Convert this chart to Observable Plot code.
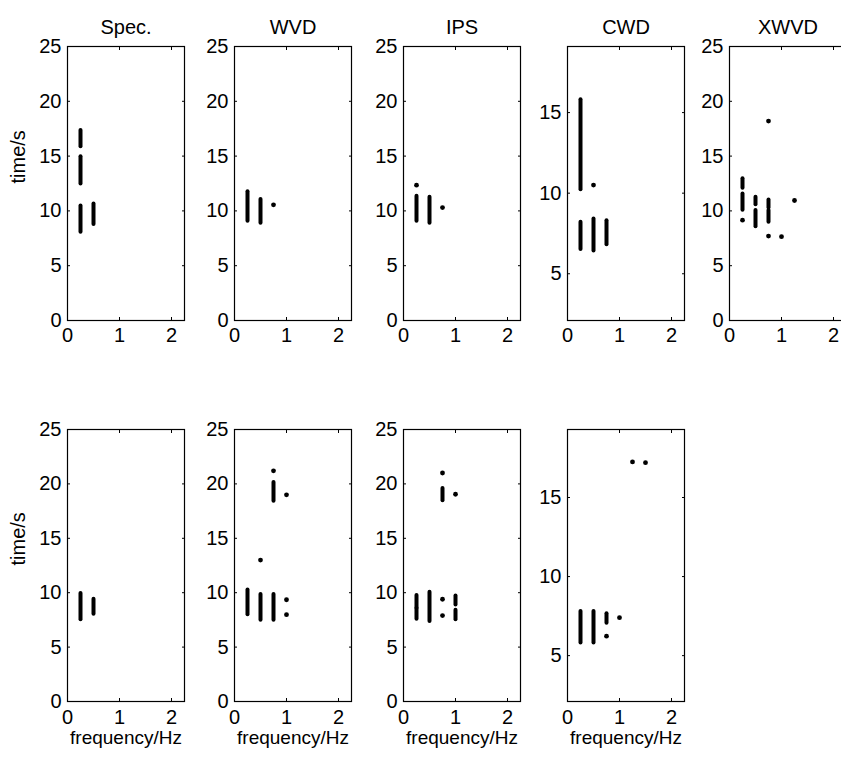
<!DOCTYPE html>
<html><head><meta charset="utf-8">
<script src="https://cdn.jsdelivr.net/npm/d3@7"></script>
<script src="https://cdn.jsdelivr.net/npm/@observablehq/plot@0.6"></script>
<style>
body{margin:0;background:#fff;}
#chart{position:relative;width:841px;height:760px;overflow:hidden;background:#fff;}
#chart > svg{position:absolute;}
</style></head><body><div id="chart"></div>
<script>
// ---------- data ----------
const titles = ["Spec.", "WVD", "IPS", "CWD", "XWVD"];
const freqTicks = [0, 1, 2];
const timeTicks = [0, 5, 10, 15, 20, 25];
const cwdTimeTicks = [5, 10, 15];
const xLabel = "frequency/Hz";
const yLabel = "time/s";
const freqDomain = [0, 2.25];
const timeDomain = [0, 25];
const cwdTopDomain = [2.1, 19.1];
const cwdBottomDomain = [2.1, 19.3];

// top row: vertical strokes (f, t1..t2) and isolated points (f, t)
const specTopBars = [{f:0.25,t1:16.0,t2:17.2},{f:0.25,t1:12.6,t2:14.8},{f:0.25,t1:8.2,t2:10.3},{f:0.5,t1:8.9,t2:10.5}];
const specTopDots = [];
const wvdTopBars = [{f:0.25,t1:9.2,t2:11.6},{f:0.5,t1:9.0,t2:10.9}];
const wvdTopDots = [{f:0.75,t:10.55}];
const ipsTopBars = [{f:0.25,t1:9.2,t2:11.2},{f:0.5,t1:9.0,t2:11.1}];
const ipsTopDots = [{f:0.25,t:12.35},{f:0.75,t:10.3}];
const cwdTopBars = [{f:0.25,t1:10.3,t2:15.7},{f:0.25,t1:6.6,t2:8.1},{f:0.5,t1:6.5,t2:8.3},{f:0.75,t1:6.9,t2:8.2}];
const cwdTopDots = [{f:0.5,t:10.5}];
const xwvdTopBars = [{f:0.25,t1:12.2,t2:12.8},{f:0.25,t1:10.2,t2:11.4},{f:0.5,t1:10.7,t2:11.1},{f:0.5,t1:8.7,t2:9.9},{f:0.75,t1:10.4,t2:10.85},{f:0.75,t1:9.1,t2:9.9}];
const xwvdTopDots = [{f:0.75,t:18.2},{f:0.25,t:9.15},{f:0.75,t:7.7},{f:1.0,t:7.65},{f:1.25,t:10.95}];

// bottom row
const specBotBars = [{f:0.25,t1:7.65,t2:9.8},{f:0.5,t1:8.15,t2:9.25}];
const specBotDots = [];
const wvdBotBars = [{f:0.75,t1:18.55,t2:20.0},{f:0.25,t1:8.1,t2:10.1},{f:0.5,t1:7.6,t2:9.7},{f:0.75,t1:7.6,t2:9.7}];
const wvdBotDots = [{f:0.75,t:21.2},{f:1.0,t:19.0},{f:0.5,t:13.0},{f:1.0,t:9.35},{f:1.0,t:7.98}];
const ipsBotBars = [{f:0.75,t1:18.6,t2:19.45},{f:0.25,t1:8.7,t2:9.6},{f:0.25,t1:7.7,t2:8.4},{f:0.5,t1:7.5,t2:9.9},{f:1.0,t1:9.0,t2:9.55},{f:1.0,t1:7.65,t2:8.25}];
const ipsBotDots = [{f:0.75,t:21.0},{f:1.0,t:19.05},{f:0.75,t:9.4},{f:0.75,t:7.9}];
const cwdBotBars = [{f:0.25,t1:5.9,t2:7.7},{f:0.5,t1:5.9,t2:7.7},{f:0.75,t1:7.15,t2:7.55}];
const cwdBotDots = [{f:1.25,t:17.25},{f:1.5,t:17.2},{f:0.75,t:6.23},{f:1.0,t:7.4}];

// ---------- layout ----------
const frameLefts = [67, 234, 403, 567, 729];
const rowTops = [46, 429];
const frameHeights = [274, 272];
const frameWidth = 117;
const ml = 60, mr = 12, mt = 46, mb = 56;
const font = "'Liberation Sans', Arial, Helvetica, sans-serif";

const panels = [
  {row:0,col:0,title:titles[0],bars:specTopBars,dots:specTopDots,domain:timeDomain,ticks:timeTicks},
  {row:0,col:1,title:titles[1],bars:wvdTopBars,dots:wvdTopDots,domain:timeDomain,ticks:timeTicks},
  {row:0,col:2,title:titles[2],bars:ipsTopBars,dots:ipsTopDots,domain:timeDomain,ticks:timeTicks},
  {row:0,col:3,title:titles[3],bars:cwdTopBars,dots:cwdTopDots,domain:cwdTopDomain,ticks:cwdTimeTicks},
  {row:0,col:4,title:titles[4],bars:xwvdTopBars,dots:xwvdTopDots,domain:timeDomain,ticks:timeTicks},
  {row:1,col:0,title:null,bars:specBotBars,dots:specBotDots,domain:timeDomain,ticks:timeTicks},
  {row:1,col:1,title:null,bars:wvdBotBars,dots:wvdBotDots,domain:timeDomain,ticks:timeTicks},
  {row:1,col:2,title:null,bars:ipsBotBars,dots:ipsBotDots,domain:timeDomain,ticks:timeTicks},
  {row:1,col:3,title:null,bars:cwdBotBars,dots:cwdBotDots,domain:cwdBottomDomain,ticks:cwdTimeTicks}
];

const container = document.getElementById("chart");
for (const p of panels) {
  const fh = frameHeights[p.row];
  const marks = [
    Plot.frame({stroke: "black", strokeWidth: 1.2}),
    Plot.axisX({ticks: freqTicks, tickSize: 0, tickPadding: p.row === 0 ? 7 : 8, tickFormat: "d", label: null}),
    Plot.axisX({ticks: freqTicks, tickSize: -3, tickFormat: () => "", label: null}),
    Plot.axisX({ticks: freqTicks, anchor: "top", tickSize: -3, tickFormat: () => "", label: null}),
    Plot.axisY({ticks: p.ticks, tickSize: 0, tickPadding: 6, tickFormat: "d", label: null}),
    Plot.axisY({ticks: p.ticks, tickSize: -3, tickFormat: () => "", label: null}),
    Plot.axisY({ticks: p.ticks, anchor: "right", tickSize: -3, tickFormat: () => "", label: null}),
    Plot.ruleX(p.bars, {x: "f", y1: "t1", y2: "t2", stroke: "black", strokeWidth: 4, strokeLinecap: "round", insetTop: 1.5, insetBottom: 1.5}),
    Plot.dot(p.dots, {x: "f", y: "t", r: 2.4, fill: "black", stroke: null})
  ];
  if (p.title) marks.push(Plot.text([p.title], {text: d => d, frameAnchor: "top", dy: -27, fontSize: 20}));
  if (p.col === 0) marks.push(Plot.text([yLabel], {text: d => d, frameAnchor: "left", rotate: -90, dx: -48.5, fontSize: 20}));
  if (p.row === 1) marks.push(Plot.text([xLabel], {text: d => d, frameAnchor: "bottom", dy: 42, fontSize: 19}));
  const svg = Plot.plot({
    width: ml + frameWidth + mr,
    height: mt + fh + mb,
    marginLeft: ml, marginRight: mr, marginTop: mt, marginBottom: mb,
    x: {domain: freqDomain},
    y: {domain: p.domain},
    style: {fontFamily: font, fontSize: "20px", color: "black", background: "transparent", overflow: "visible"},
    marks
  });
  svg.style.left = (frameLefts[p.col] - ml) + "px";
  svg.style.top = (rowTops[p.row] - mt) + "px";
  container.appendChild(svg);
}
</script></body></html>
